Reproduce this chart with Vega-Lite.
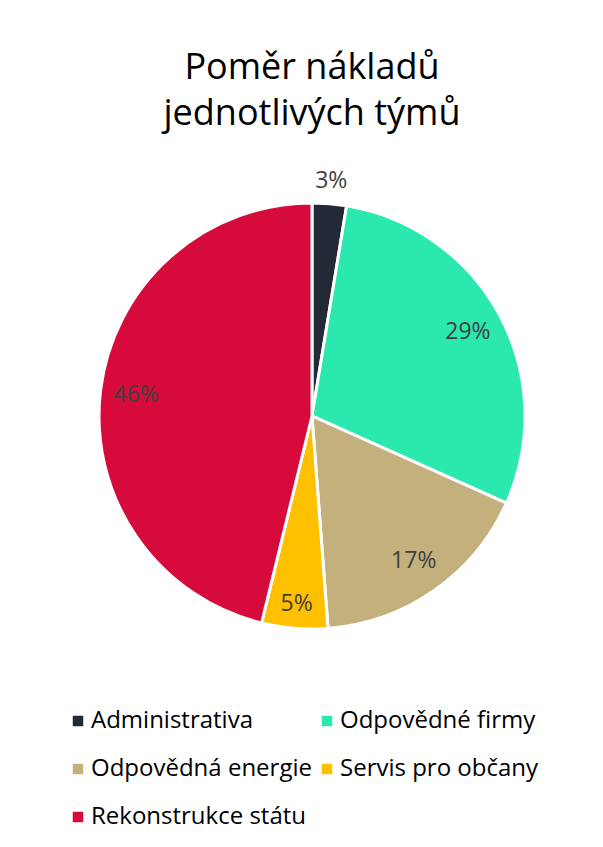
{
  "$schema": "https://vega.github.io/schema/vega-lite/v6.json",
  "width": 426,
  "height": 426,
  "autosize": {"type": "none"},
  "padding": {"left": 99, "top": 203, "right": 78, "bottom": 218},
  "background": "#ffffff",
  "config": {"view": {"stroke": null}, "font": "Open Sans"},
  "title": {
    "text": ["Poměr nákladů", "jednotlivých týmů"],
    "fontSize": 36,
    "fontWeight": "normal",
    "font": "Open Sans",
    "color": "#000000",
    "lineHeight": 46,
    "anchor": "middle",
    "offset": 37
  },
  "data": {
    "values": [
      {"i": 1, "team": "Administrativa", "value": 2.6, "label": "3%"},
      {"i": 2, "team": "Odpovědné firmy", "value": 29.1, "label": "29%"},
      {"i": 3, "team": "Odpovědná energie", "value": 17.1, "label": "17%"},
      {"i": 4, "team": "Servis pro občany", "value": 5.0, "label": "5%"},
      {"i": 5, "team": "Rekonstrukce státu", "value": 46.2, "label": "46%"}
    ]
  },
  "encoding": {
    "theta": {"field": "value", "type": "quantitative", "stack": true},
    "order": {"field": "i", "type": "quantitative"}
  },
  "layer": [
    {
      "mark": {"type": "arc", "outerRadius": 213, "stroke": "#ffffff", "strokeWidth": 3},
      "encoding": {
        "color": {
          "field": "team",
          "type": "nominal",
          "sort": ["Administrativa", "Odpovědné firmy", "Odpovědná energie", "Servis pro občany", "Rekonstrukce státu"],
          "scale": {
            "domain": ["Administrativa", "Odpovědné firmy", "Odpovědná energie", "Servis pro občany", "Rekonstrukce státu"],
            "range": ["#222a35", "#2be8af", "#c4b07c", "#ffc000", "#d60b3c"]
          },
          "legend": {
            "title": null,
            "orient": "none",
            "legendX": -33,
            "legendY": 506,
            "direction": "horizontal",
            "columns": 2,
            "symbolType": "square",
            "symbolSize": 110,
            "symbolStrokeWidth": 0,
            "labelFontSize": 24,
            "labelFont": "Open Sans",
            "labelColor": "#000000",
            "labelOffset": 1,
            "columnPadding": 3,
            "rowPadding": 24,
            "labelLimit": 400
          }
        }
      }
    },
    {
      "mark": {"type": "text", "radius": 177, "fontSize": 23, "font": "Open Sans", "color": "#404040"},
      "encoding": {
        "text": {"condition": {"test": "datum.value >= 10", "field": "label"}, "value": ""}
      }
    },
    {
      "mark": {"type": "text", "radius": 189, "fontSize": 23, "font": "Open Sans", "color": "#404040"},
      "encoding": {
        "text": {"condition": {"test": "datum.value >= 4 && datum.value < 10", "field": "label"}, "value": ""}
      }
    },
    {
      "mark": {"type": "text", "radius": 236, "fontSize": 23, "font": "Open Sans", "color": "#404040"},
      "encoding": {
        "text": {"condition": {"test": "datum.value < 4", "field": "label"}, "value": ""}
      }
    }
  ]
}
